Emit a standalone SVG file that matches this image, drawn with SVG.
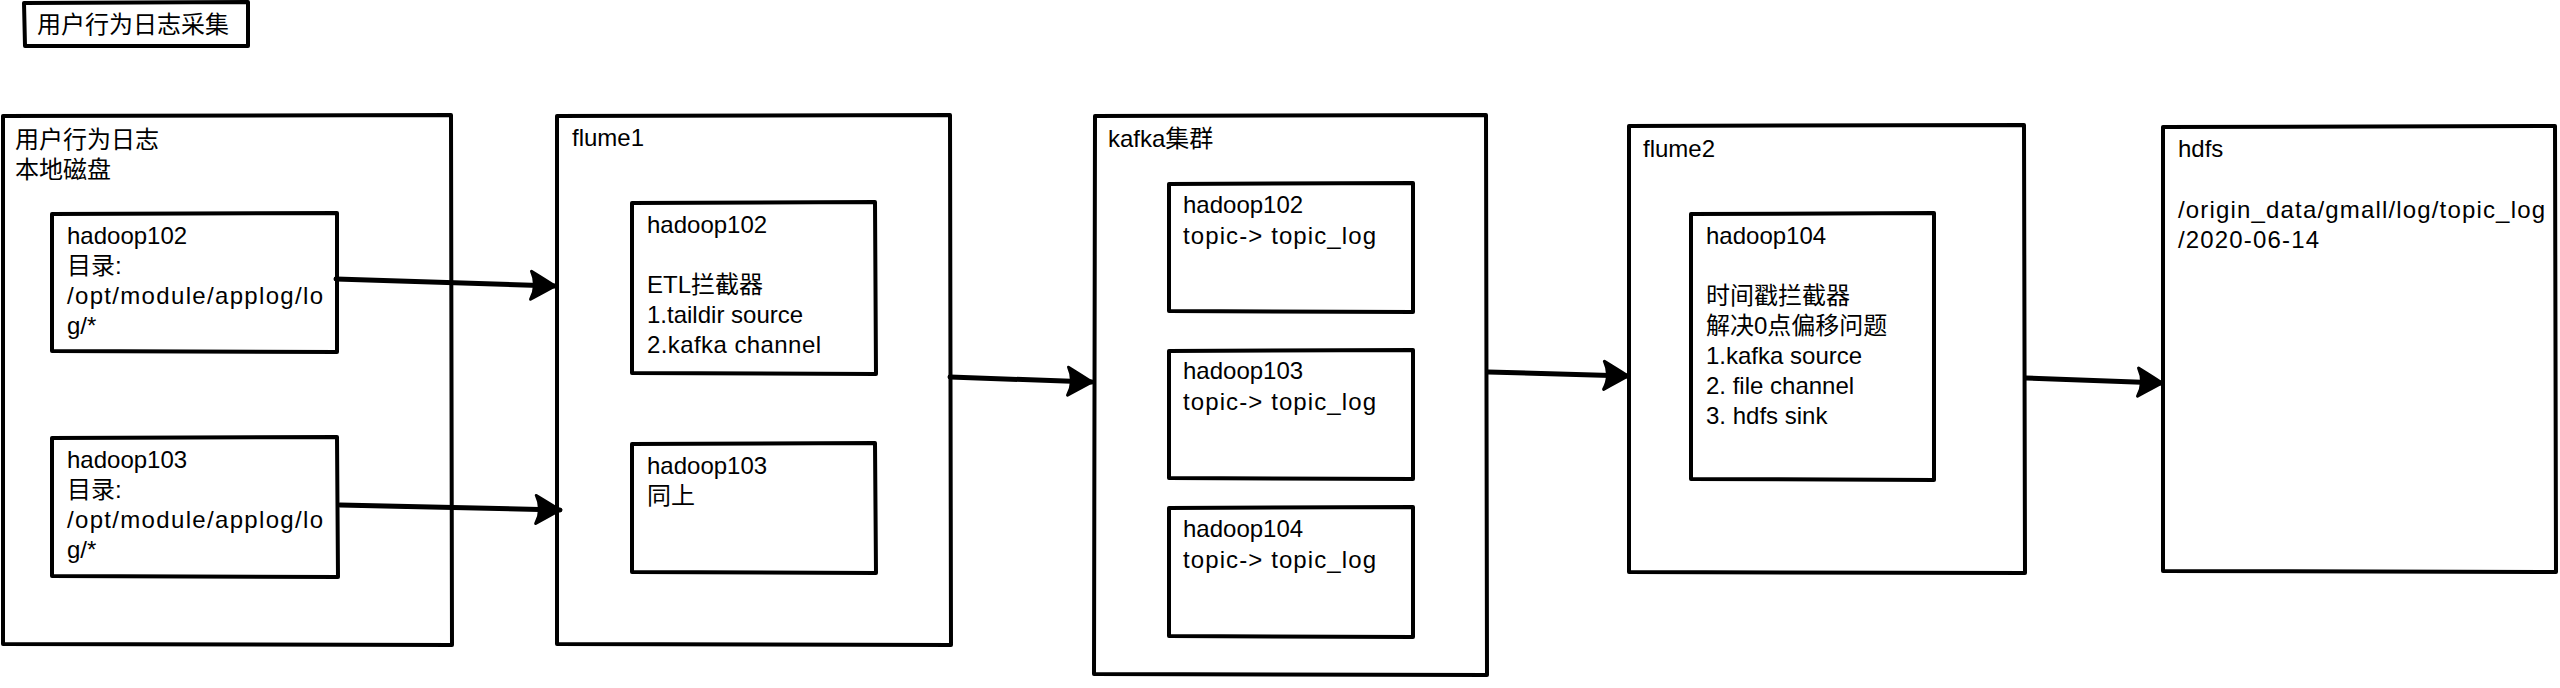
<svg xmlns="http://www.w3.org/2000/svg" width="2560" height="688" viewBox="0 0 2560 688">
  <style>
    .box { fill: #ffffff; stroke: #000000; stroke-width: 4; stroke-linejoin: round; stroke-linecap: round; }
    .t { font-family: "Liberation Sans", "Noto Sans CJK SC", sans-serif; font-size: 24px; fill: #000000; }
    .conn { fill: none; stroke: #000000; stroke-width: 5; stroke-linecap: round; marker-end: url(#arr); }
  </style>
  <defs>
    <marker id="arr" markerUnits="userSpaceOnUse" viewBox="-30 -18 32 36" refX="0" refY="0" markerWidth="32" markerHeight="36" orient="auto">
      <path d="M-24,-14 Q-10,-6 0,0 Q-10,6 -24,14 Q-17,0 -24,-14 Z" fill="#000000" stroke="#000000" stroke-width="3" stroke-linejoin="round"/>
    </marker>
  </defs>
  <rect x="0" y="0" width="2560" height="688" fill="#ffffff"/>

  <g id="title">
    <path class="box" d="M24,3 L248,2 L248,46 L25,46 Z"/>
    <text class="t" x="37" y="33">用户行为日志采集</text>
  </g>

  <g id="local-disk">
    <path class="box" d="M3,116 L451,115 L452,645 L3,644 Z"/>
    <text class="t" x="15" y="148">用户行为日志</text>
    <text class="t" x="15" y="178">本地磁盘</text>
  </g>
  <g id="local-hadoop102">
    <path class="box" d="M52,214 L337,213 L337,352 L52,351 Z"/>
    <text class="t" x="67" y="244">hadoop102</text>
    <text class="t" x="67" y="274">目录:</text>
    <text class="t" x="67" y="304" textLength="256" lengthAdjust="spacing">/opt/module/applog/lo</text>
    <text class="t" x="67" y="334">g/*</text>
  </g>
  <g id="local-hadoop103">
    <path class="box" d="M52,438 L337,437 L338,577 L52,576 Z"/>
    <text class="t" x="67" y="468">hadoop103</text>
    <text class="t" x="67" y="498">目录:</text>
    <text class="t" x="67" y="528" textLength="256" lengthAdjust="spacing">/opt/module/applog/lo</text>
    <text class="t" x="67" y="558">g/*</text>
  </g>

  <g id="flume1">
    <path class="box" d="M557,116 L950,115 L951,645 L557,644 Z"/>
    <text class="t" x="572" y="146">flume1</text>
  </g>
  <g id="flume1-hadoop102">
    <path class="box" d="M632,203 L875,202 L876,374 L632,373 Z"/>
    <text class="t" x="647" y="233">hadoop102</text>
    <text class="t" x="647" y="293">ETL拦截器</text>
    <text class="t" x="647" y="323">1.taildir source</text>
    <text class="t" x="647" y="353" textLength="174" lengthAdjust="spacing">2.kafka channel</text>
  </g>
  <g id="flume1-hadoop103">
    <path class="box" d="M632,444 L875,443 L876,573 L632,572 Z"/>
    <text class="t" x="647" y="474">hadoop103</text>
    <text class="t" x="647" y="504">同上</text>
  </g>

  <g id="kafka">
    <path class="box" d="M1095,116 L1486,115 L1487,675 L1094,674 Z"/>
    <text class="t" x="1108" y="147">kafka集群</text>
  </g>
  <g id="kafka-hadoop102">
    <path class="box" d="M1169,184 L1413,183 L1413,312 L1169,311 Z"/>
    <text class="t" x="1183" y="213">hadoop102</text>
    <text class="t" x="1183" y="244" textLength="193" lengthAdjust="spacing">topic-&gt; topic_log</text>
  </g>
  <g id="kafka-hadoop103">
    <path class="box" d="M1169,351 L1413,350 L1413,479 L1169,478 Z"/>
    <text class="t" x="1183" y="379">hadoop103</text>
    <text class="t" x="1183" y="410" textLength="193" lengthAdjust="spacing">topic-&gt; topic_log</text>
  </g>
  <g id="kafka-hadoop104">
    <path class="box" d="M1169,508 L1413,507 L1413,637 L1169,636 Z"/>
    <text class="t" x="1183" y="537">hadoop104</text>
    <text class="t" x="1183" y="568" textLength="193" lengthAdjust="spacing">topic-&gt; topic_log</text>
  </g>

  <g id="flume2">
    <path class="box" d="M1629,126 L2024,125 L2025,573 L1629,572 Z"/>
    <text class="t" x="1643" y="157">flume2</text>
  </g>
  <g id="flume2-hadoop104">
    <path class="box" d="M1691,214 L1934,213 L1934,480 L1691,479 Z"/>
    <text class="t" x="1706" y="244">hadoop104</text>
    <text class="t" x="1706" y="304">时间戳拦截器</text>
    <text class="t" x="1706" y="334">解决0点偏移问题</text>
    <text class="t" x="1706" y="364">1.kafka source</text>
    <text class="t" x="1706" y="394">2. file channel</text>
    <text class="t" x="1706" y="424">3. hdfs sink</text>
  </g>

  <g id="hdfs">
    <path class="box" d="M2163,127 L2555,126 L2556,572 L2163,571 Z"/>
    <text class="t" x="2178" y="157">hdfs</text>
    <text class="t" x="2178" y="218" textLength="367" lengthAdjust="spacing">/origin_data/gmall/log/topic_log</text>
    <text class="t" x="2178" y="248" textLength="141" lengthAdjust="spacing">/2020-06-14</text>
  </g>

  <g id="connectors">
    <path class="conn" d="M336,279 L555,286"/>
    <path class="conn" d="M340,505 L560,510"/>
    <path class="conn" d="M950,377 L1092,382"/>
    <path class="conn" d="M1488,372 L1628,376"/>
    <path class="conn" d="M2026,378 L2162,383"/>
  </g>
</svg>
